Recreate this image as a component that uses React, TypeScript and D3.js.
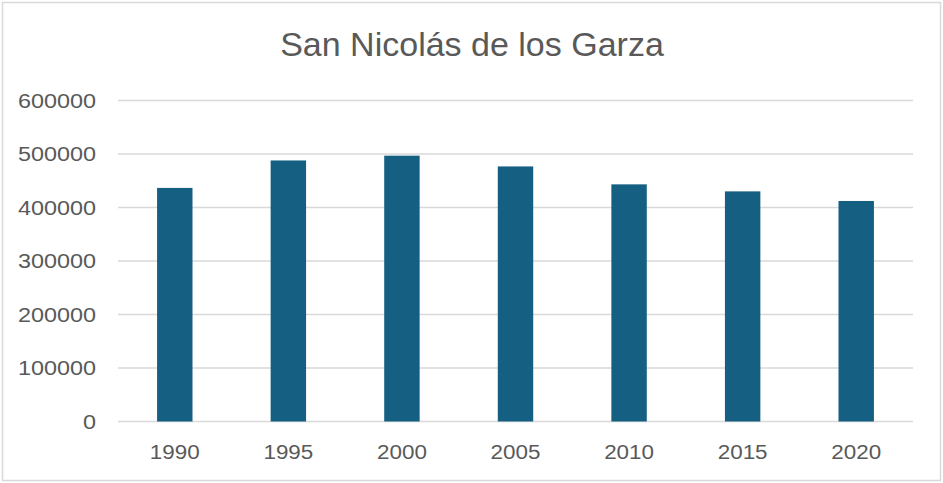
import React from "react";
import * as d3 from "d3";

const years = ["1990", "1995", "2000", "2005", "2010", "2015", "2020"];
const population = [436603, 487924, 496878, 476761, 443273, 430143, 412199];
const yTicks = [0, 100000, 200000, 300000, 400000, 500000, 600000];
const title = "San Nicolás de los Garza";

const W = 943;
const H = 483;
const M = { left: 118, right: 30, top: 100.5, bottom: 61.5 };

export default function App() {
  const x = d3
    .scaleBand<string>()
    .domain(years)
    .range([M.left, W - M.right])
    .paddingInner(0.688)
    .paddingOuter(0.344);
  const y = d3.scaleLinear().domain([0, 600000]).range([H - M.bottom, M.top]);
  const textColor = "#595959";
  const font = "'Liberation Sans', Arial, sans-serif";
  return (
    <div style={{ position: "absolute", left: 0, top: 0 }}>
      <svg width={W} height={H} style={{ display: "block" }}>
        <rect x={0} y={0} width={W} height={H} fill="#ffffff" />
        <rect x={2.5} y={2.5} width={W - 5} height={H - 5} fill="none" stroke="#d9d9d9" strokeWidth={1.5} />
        <text
          x={472}
          y={56}
          textAnchor="middle"
          fontFamily={font}
          fontSize={34}
          fill={textColor}
        >
          {title}
        </text>
        {yTicks.map((t) => (
          <g key={t}>
            <line x1={M.left} x2={W - M.right} y1={y(t)} y2={y(t)} stroke="#d9d9d9" strokeWidth={1.5} />
            <text
              transform={`translate(96,${y(t) + 7}) scale(1.2,1)`}
              textAnchor="end"
              fontFamily={font}
              fontSize={19.5}
              fill={textColor}
            >
              {t}
            </text>
          </g>
        ))}
        {years.map((yr, i) => (
          <g key={yr}>
            <rect
              x={x(yr)}
              y={y(population[i])}
              width={x.bandwidth()}
              height={y(0) - y(population[i])}
              fill="#156082"
            />
            <text
              transform={`translate(${(x(yr) as number) + x.bandwidth() / 2},${458.5}) scale(1.15,1)`}
              textAnchor="middle"
              fontFamily={font}
              fontSize={19.5}
              fill={textColor}
            >
              {yr}
            </text>
          </g>
        ))}
      </svg>
    </div>
  );
}
